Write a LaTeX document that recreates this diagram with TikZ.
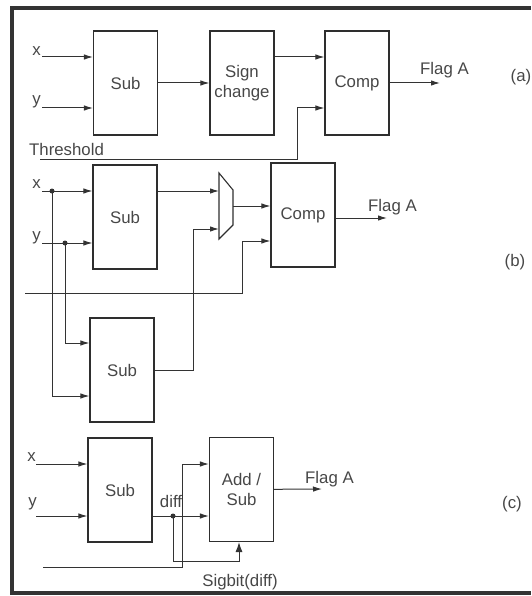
\documentclass[tikz,border=0pt]{standalone}
\usepackage{fontspec}
\setmainfont{Liberation Sans}
\usetikzlibrary{arrows.meta}

\begin{document}
\begin{tikzpicture}[
    x=1pt, y=-1pt,
    every node/.style={font=\fontsize{16.8}{20}\selectfont, text=black!72, align=center, inner sep=0pt},
    blk/.style={draw=black!82, line width=1.1pt, minimum width=64pt, minimum height=104pt},
    wire/.style={line width=1pt, draw=black!80},
    arr/.style={wire, -{Latex[length=9pt,width=5.5pt]}},
    dot/.style={circle, fill=black!80, minimum size=5pt, inner sep=0pt},
    lbl/.style={anchor=base east},
    tag/.style={anchor=base west}
]
    \useasboundingbox (0,0) rectangle (531,596);
    % frame
    \draw[line width=3.5pt, black!80] (531,8) -- (12,8) -- (12,593) -- (531,593);

    % (a)
    \node[blk] (suba)  at (125.5,83) {Sub};
    \node[blk] (sign)  at (242,83)   {Sign\\change};
    \node[blk] (compa) at (357,83)   {Comp};
    \coordinate (xa)  at (42,57);
    \coordinate (ya)  at (42,108);
    \coordinate (tha) at (40,160);
    \coordinate (fa)  at (440,83);
    \node[lbl] (xlbla) at (41,56)  {x};
    \node[lbl] (ylbla) at (41,105) {y};
    \node[anchor=base west] (thlbl) at (29,156) {Threshold};
    \node[tag] (flaga) at (420,75) {Flag A};
    \node (parta) at (521,77) {(a)};

    \draw[arr] (xa) -- (suba.west |- xa);
    \draw[arr] (ya) -- (suba.west |- ya);
    \draw[arr] (suba) -- (sign);
    \draw[arr] (sign.east |- xa) -- (compa.west |- xa);
    \draw[arr] (tha) -| ([xshift=-27pt]compa.west |- ya) -- (compa.west |- ya);
    \draw[arr] (compa) -- (fa);

    % (b)
    \node[blk] (subb)  at (125,217) {Sub};
    \node[blk] (subb2) at (122,370) {Sub};
    \node[blk] (compb) at (303,215) {Comp};
    \coordinate (xb) at (42,191);
    \coordinate (yb) at (42,243);
    \coordinate (thb) at (25,293);
    \coordinate (fb) at (387,218);
    \coordinate (muxin1) at (219,191);
    \coordinate (muxin2) at (219,229);
    \coordinate (muxout) at (233,206);
    \coordinate (muxb) at (193,229);
    \node[lbl] (xlblb) at (41,188) {x};
    \node[lbl] (ylblb) at (41,240) {y};
    \node[tag] (flagb) at (368,211) {Flag A};
    \node (partb) at (515,262) {(b)};

    \draw[line width=1.1pt, black!82] (219,173) -- (233,190) -- (233,225) -- (219,239) -- cycle;
    \draw[arr] (xb) -- (subb.west |- xb);
    \draw[arr] (yb) -- (subb.west |- yb);
    \node[dot] (dxb) at (52,191) {};
    \node[dot] (dyb) at (65,243) {};
    \draw[arr] (dxb.center) |- ([yshift=-26pt]subb2.west);
    \draw[arr] (dyb.center) |- ([yshift=27pt]subb2.west);
    \draw[arr] (subb.east |- muxin1) -- (muxin1);
    \draw[arr] (subb2.east) -| (muxb) -- (muxin2);
    \draw[arr] (muxout) -- (compb.west |- muxout);
    \draw[arr] (thb) -| ([xshift=-28pt,yshift=-26pt]compb.west) -- ([yshift=-26pt]compb.west);
    \draw[arr] (compb.east |- fb) -- (fb);

    % (c)
    \node[blk] (subc)   at (120,490)     {Sub};
    \node[blk] (addsub) at (241.5,489.5) {Add /\\Sub};
    \coordinate (xc)  at (36,464);
    \coordinate (yc)  at (36,516);
    \coordinate (sgc) at (43,567);
    \coordinate (fc)  at (322,489);
    \node[lbl] (xlblc) at (36,461) {x};
    \node[lbl] (ylblc) at (37,506) {y};
    \node[anchor=base] (diff) at (171,507) {diff};
    \node[anchor=base] (sigbit) at (240,586) {Sigbit(diff)};
    \node[tag] (flagc) at (305,483) {Flag A};
    \node (partc) at (512,504) {(c)};

    \draw[arr] (xc) -- (subc.west |- xc);
    \draw[arr] (yc) -- (subc.west |- yc);
    \draw[arr] (subc.east |- yc) -- (addsub.west |- yc);
    \node[dot] (ddiff) at (173,516) {};
    \draw[wire, -{Latex[length=10pt,width=7pt]}] (ddiff.center) |- ([xshift=-2.5pt,yshift=-19.5pt]addsub.south) -- ([xshift=-2.5pt]addsub.south);
    \draw[arr] (sgc) -| ([xshift=-26pt]addsub.west |- xc) -- (addsub.west |- xc);
    \draw[arr] (addsub) -- (fc);
\end{tikzpicture}
\end{document}
